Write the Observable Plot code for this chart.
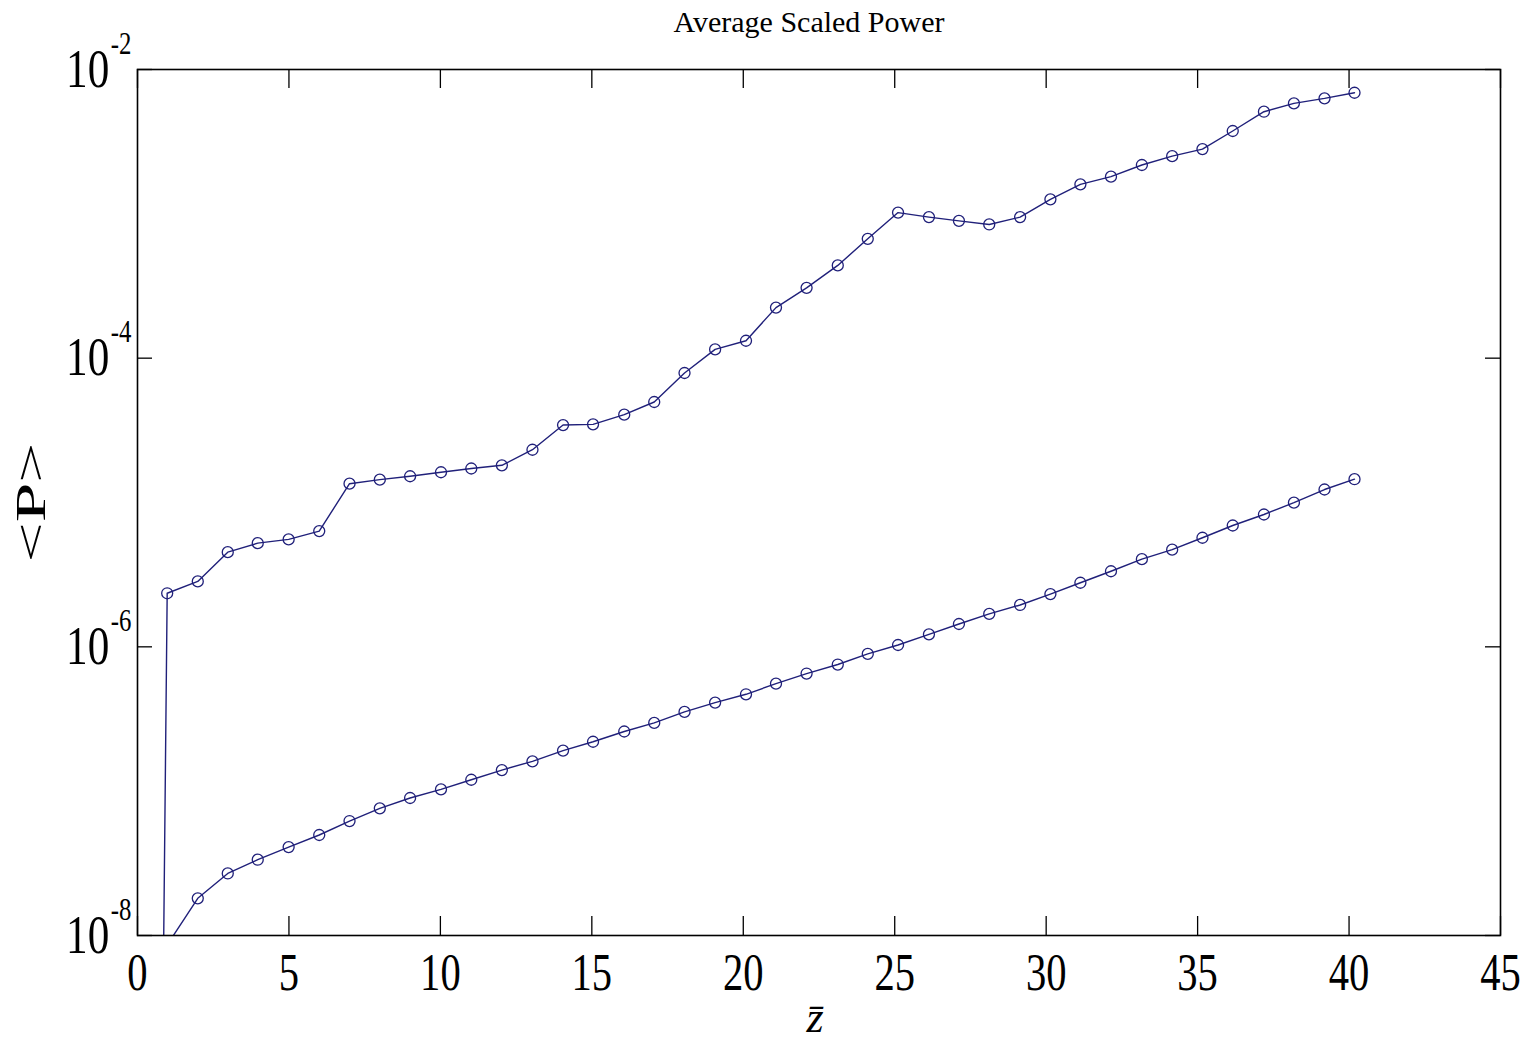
<!DOCTYPE html>
<html><head><meta charset="utf-8">
<script src="https://cdn.jsdelivr.net/npm/d3@7"></script>
<script src="https://cdn.jsdelivr.net/npm/@observablehq/plot@0.6"></script>
<style>html,body{margin:0;padding:0;background:#fff;} svg{display:block}</style>
</head><body><div id="chart"></div>
<script>
const zbar = [0.98, 1.99, 2.98, 3.97, 4.99, 6.00, 7.00, 8.00, 9.00, 10.02, 11.02, 12.03, 13.04, 14.05, 15.04, 16.07, 17.06, 18.06, 19.07, 20.09, 21.08, 22.09, 23.12, 24.11, 25.11, 26.13, 27.12, 28.12, 29.14, 30.14, 31.13, 32.14, 33.16, 34.16, 35.16, 36.16, 37.19, 38.18, 39.19, 40.18];
const powerUpper = [2.35e-6, 2.84e-6, 4.53e-6, 5.23e-6, 5.55e-6, 6.34e-6, 1.35e-5, 1.44e-5, 1.52e-5, 1.62e-5, 1.72e-5, 1.81e-5, 2.32e-5, 3.44e-5, 3.48e-5, 4.06e-5, 4.97e-5, 7.89e-5, 1.15e-4, 1.32e-4, 2.24e-4, 3.07e-4, 4.39e-4, 6.71e-4, 1.02e-3, 9.49e-4, 8.94e-4, 8.44e-4, 9.49e-4, 1.26e-3, 1.60e-3, 1.81e-3, 2.18e-3, 2.51e-3, 2.81e-3, 3.75e-3, 5.10e-3, 5.83e-3, 6.31e-3, 6.90e-3];
const powerLower = [8.6e-9, 1.81e-8, 2.69e-8, 3.35e-8, 4.10e-8, 4.97e-8, 6.21e-8, 7.60e-8, 8.97e-8, 1.03e-7, 1.20e-7, 1.40e-7, 1.61e-7, 1.91e-7, 2.20e-7, 2.59e-7, 2.97e-7, 3.54e-7, 4.11e-7, 4.69e-7, 5.56e-7, 6.53e-7, 7.54e-7, 8.93e-7, 1.03e-6, 1.22e-6, 1.44e-6, 1.69e-6, 1.95e-6, 2.32e-6, 2.78e-6, 3.34e-6, 4.05e-6, 4.71e-6, 5.70e-6, 6.93e-6, 8.26e-6, 9.97e-6, 1.23e-5, 1.45e-5];
const upperStartZ = 0;
const upperStartP = 1e-26;
const xTicks = [0, 5, 10, 15, 20, 25, 30, 35, 40, 45];
const yTicks = [1e-8, 1e-6, 1e-4, 1e-2];
const titleText = "Average Scaled Power";
const yLabelText = "<P>";
const xLabelText = "z\u0304";

const upper = [{z: upperStartZ, p: upperStartP}].concat(zbar.map((z, i) => ({z, p: powerUpper[i]})));
const lower = zbar.map((z, i) => ({z, p: powerLower[i]}));

const W = 1529, H = 1041, mL = 137, mR = 29, mT = 69, mB = 106;
const fw = W - mL - mR, fh = H - mT - mB;
const serif = "'Liberation Serif', 'Times New Roman', serif";
const lineColor = "#20207a";

const plot = Plot.plot({
  width: W, height: H,
  marginLeft: mL, marginRight: mR, marginTop: mT, marginBottom: mB,
  style: {fontFamily: serif, background: "white", color: "black", overflow: "visible"},
  x: {domain: [0, 45]},
  y: {type: "log", domain: [1e-8, 1e-2]},
  marks: [
    Plot.line(upper, {x: "z", y: "p", stroke: lineColor, strokeWidth: 1.4, clip: true}),
    Plot.dot(upper, {x: "z", y: "p", r: 5.5, stroke: lineColor, strokeWidth: 1.3, fill: "none", clip: true}),
    Plot.line(lower, {x: "z", y: "p", stroke: lineColor, strokeWidth: 1.4, clip: true}),
    Plot.dot(lower, {x: "z", y: "p", r: 5.5, stroke: lineColor, strokeWidth: 1.3, fill: "none", clip: true}),
    Plot.ruleX(xTicks, {x: d => d, insetTop: fh - 19, stroke: "black", strokeWidth: 1.3}),
    Plot.ruleX(xTicks, {x: d => d, insetBottom: fh - 19, stroke: "black", strokeWidth: 1.3}),
    Plot.ruleY(yTicks, {y: d => d, insetRight: fw - 15, stroke: "black", strokeWidth: 1.3}),
    Plot.ruleY(yTicks, {y: d => d, insetLeft: fw - 15, stroke: "black", strokeWidth: 1.3}),
    Plot.frame({stroke: "black", strokeWidth: 1.6}),
    Plot.axisX({ticks: xTicks, tickSize: 0, tickPadding: 18, fontSize: 52, label: null, tickFormat: d => String(d)}),
    Plot.axisY({ticks: yTicks, tickSize: 0, tickPadding: 6, fontSize: 54, label: null, tickFormat: d => "10^" + Math.round(Math.log10(d))}),
    Plot.text([titleText], {frameAnchor: "top", dy: -38, dx: -10, lineAnchor: "bottom", textAnchor: "middle", fontSize: 30}),
    Plot.text([yLabelText], {frameAnchor: "left", dx: -106, rotate: -90, textAnchor: "middle", lineAnchor: "middle", fontSize: 42}),
    Plot.text([xLabelText], {frameAnchor: "bottom", dy: 96.7, dx: -4, lineAnchor: "bottom", textAnchor: "middle", fontSize: 44, fontStyle: "italic"})
  ]
});

const svg = d3.select(plot);
function addScale(el, s) {
  const t = el.getAttribute("transform") || "";
  el.setAttribute("transform", (t + " " + s).trim());
}
svg.selectAll("text").each(function () {
  const s = this.textContent;
  const sel = d3.select(this);
  if (s.includes("^")) {
    const [b, e] = s.split("^");
    this.textContent = b;
    sel.append("tspan").attr("dx", 2).attr("dy", -33).attr("font-size", 31).text(e);
    addScale(this, "scale(0.8,1)");
  } else if (s === yLabelText) {
    addScale(this, "scale(1.7,1)");
  } else if (xTicks.map(String).includes(s)) {
    addScale(this, "scale(0.78,1)");
  }
});

document.getElementById("chart").appendChild(plot);
</script>
</body></html>
